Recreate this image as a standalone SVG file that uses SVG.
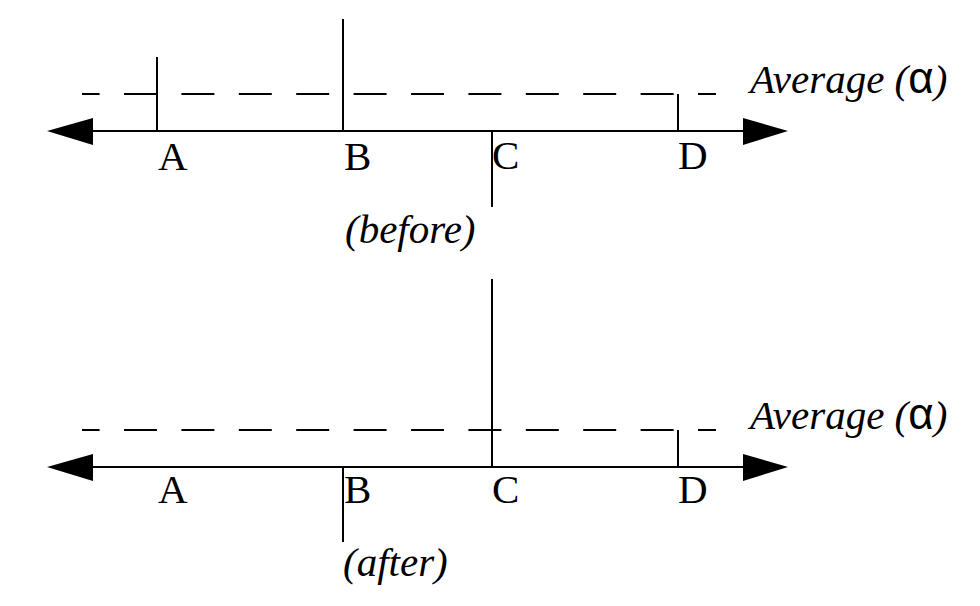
<svg xmlns="http://www.w3.org/2000/svg" width="980" height="606" viewBox="0 0 980 606">
<style>
.ax{stroke:#000;stroke-width:2;fill:none}
.tk{stroke:#000;stroke-width:2;fill:none}
.dash{stroke:#000;stroke-width:2;fill:none;stroke-dasharray:33 24.4;stroke-dashoffset:15.4}
.hd{fill:#000;stroke:none}
.lb{font-size:41px;fill:#000}
.it{font-size:41px;font-style:italic;fill:#000}
.al{font-family:"Liberation Sans",Arial,sans-serif;font-style:normal;font-size:44px}
</style>
<rect width="980" height="606" fill="#fff"/>
<g id="connectors">
  <g id="top-axis">
    <line class="ax" x1="92" y1="131" x2="745" y2="131"/>
    <polygon class="hd" points="47,131 93,118 93,145"/>
    <polygon class="hd" points="788,131 743,118 743,145"/>
    <line class="dash" x1="82" y1="94" x2="716" y2="94"/>
  </g>
  <g id="bottom-axis">
    <line class="ax" x1="92" y1="467" x2="745" y2="467"/>
    <polygon class="hd" points="47,467 93,454 93,481"/>
    <polygon class="hd" points="788,467 743,454 743,481"/>
    <line class="dash" x1="82" y1="430" x2="716" y2="430"/>
  </g>
</g>
<g font-family="Liberation Serif, Times New Roman, serif">
<g id="top-A"><line class="tk" x1="157" y1="57" x2="157" y2="131"/><text class="lb" x="158" y="170">A</text></g>
<g id="top-B"><line class="tk" x1="343" y1="19" x2="343" y2="131"/><text class="lb" x="344" y="170">B</text></g>
<g id="top-C"><line class="tk" x1="492" y1="131" x2="492" y2="207"/><text class="lb" x="492" y="169">C</text></g>
<g id="top-D"><line class="tk" x1="678" y1="94" x2="678" y2="131"/><text class="lb" x="678" y="169">D</text></g>
<g id="top-avg"><text class="it" x="750" y="93">Average (<tspan class="al">α</tspan>)</text></g>
<g id="before"><text class="it" x="345" y="243">(before)</text></g>
<g id="bot-A"><text class="lb" x="158" y="503">A</text></g>
<g id="bot-B"><line class="tk" x1="343" y1="467" x2="343" y2="542"/><text class="lb" x="344" y="503">B</text></g>
<g id="bot-C"><line class="tk" x1="492" y1="279" x2="492" y2="467"/><text class="lb" x="492" y="503">C</text></g>
<g id="bot-D"><line class="tk" x1="678" y1="430" x2="678" y2="467"/><text class="lb" x="678" y="503">D</text></g>
<g id="bot-avg"><text class="it" x="750" y="429">Average (<tspan class="al">α</tspan>)</text></g>
<g id="after"><text class="it" x="343" y="576">(after)</text></g>
</g>
</svg>
